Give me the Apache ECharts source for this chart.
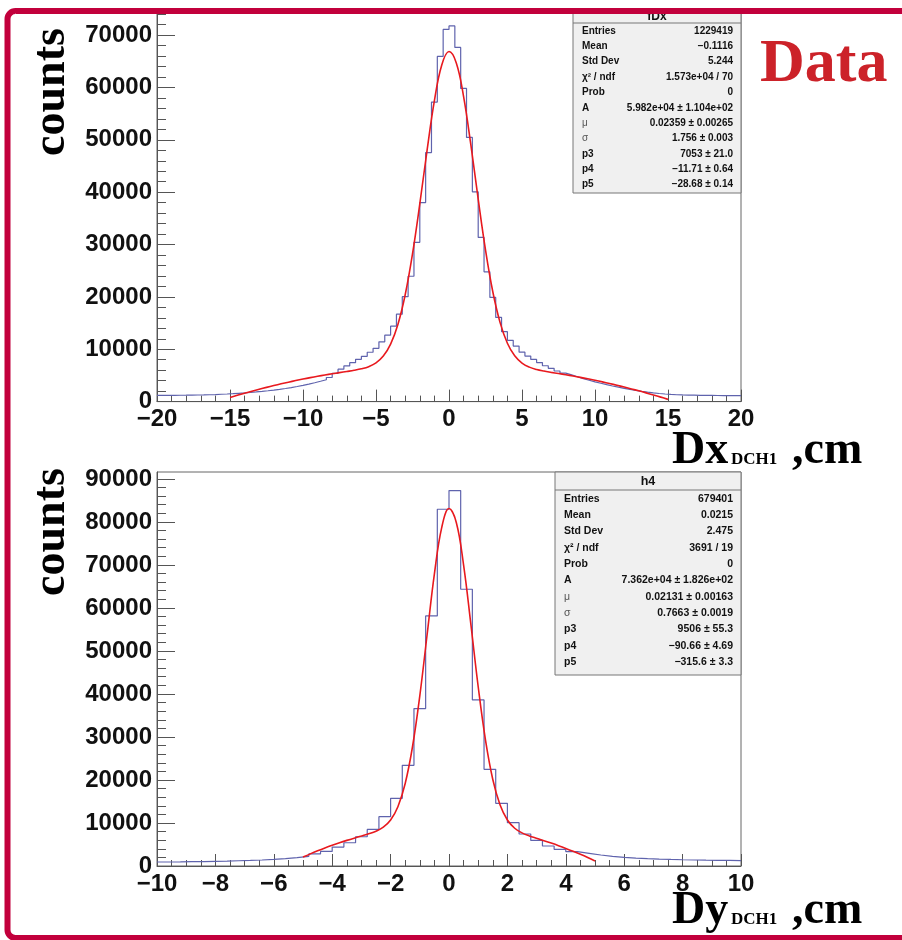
<!DOCTYPE html>
<html><head><meta charset="utf-8">
<script src="https://cdn.jsdelivr.net/npm/echarts@6/dist/echarts.min.js"></script>
<style>html,body{margin:0;padding:0;background:#fff}#c{width:902px;height:940px}</style>
</head><body><div id="c"></div>
<script>
// ---------- data ----------
const topBinStart = -20, topBinWidth = 0.4;
const topCounts = [1180,1190,1200,1210,1220,1240,1260,1280,1310,1340,
  1400,1450,1510,1580,1650,1740,1840,1950,2070,2200,
  2340,2500,2680,2880,3100,3340,3600,3880,4180,4600,
  5400,6200,6820,7430,8070,8640,9430,10170,11410,12680,
  14400,16700,20040,23950,30420,38020,47570,57210,65940,71090,
  71760,67650,59820,50460,40070,31360,24790,19900,16080,13350,
  11700,10600,9450,8700,8060,7450,6850,6350,5850,5450,
  5100,4750,4400,4080,3780,3500,3230,2980,2750,2530,
  2330,2140,1970,1810,1670,1550,1450,1370,1310,1270,
  1240,1220,1200,1190,1180,1170,1160,1150,1140,1130];
const topFitStart = -15, topFitStep = 0.5;
const topFit = [776,1193,1596,1984,2358,2718,3064,3395,3712,4014,4302,4576,4835,5080,5311,5530,5750,5977,6258,6675,
  7394,8692,10974,14734,20415,28199,37758,48055,57506,64264,66868,64700,58267,48977,38667,28973,20979,15090,11153,8742,
  7356,6583,6133,5832,5588,5358,5125,4881,4625,4353,4068,3768,3454,3125,2783,2425,2054,1668,1268,853,424];

const botBinStart = -10, botBinWidth = 0.4;
const botCounts = [930,960,1000,1040,1090,1150,1220,1300,1400,1520,
  1700,1950,2250,2800,3400,4400,5400,6800,8500,11470,
  15740,23410,36590,58140,82940,87290,64340,38600,22480,14570,
  10080,7440,5950,4650,3880,3330,2950,2560,2250,2000,
  1820,1700,1600,1520,1450,1400,1360,1330,1300,1270];
const botFitStart = -5, botFitStep = 0.25;
const botFit = [2069,2816,3523,4191,4819,5408,5957,6475,6969,7475,8088,9022,10695,13787,19194,27724,39570,53760,67904,78668,
  83098,79869,69957,56115,41669,29261,20103,14160,10687,8776,7701,7000,6432,5888,5323,4728,4094,3420,2707,1955,1163];

const statLabels = ['Entries','Mean','Std Dev','\u03c7\u00b2 / ndf','Prob','A','\u03bc','\u03c3','p3','p4','p5'];
const topStatTitle = 'fDx';
const topStats = ['1229419','\u22120.1116','5.244','1.573e+04 / 70','0','5.982e+04 \u00b1 1.104e+02','0.02359 \u00b1 0.00265','1.756 \u00b1 0.003','7053 \u00b1 21.0','\u221211.71 \u00b1 0.64','\u221228.68 \u00b1 0.14'];
const botStatTitle = 'h4';
const botStats = ['679401','0.0215','2.475','3691 / 19','0','7.362e+04 \u00b1 1.826e+02','0.02131 \u00b1 0.00163','0.7663 \u00b1 0.0019','9506 \u00b1 55.3','\u221290.66 \u00b1 4.69','\u2212315.6 \u00b1 3.3'];

// ---------- helpers ----------
function histData(start, width, counts) {
  const d = counts.map((v, i) => [+(start + i * width).toFixed(4), v]);
  d.push([+(start + counts.length * width).toFixed(4), counts[counts.length - 1]]);
  return d;
}
function fitData(start, step, vals) {
  return vals.map((v, i) => [+(start + i * step).toFixed(4), v]);
}
function minorVals(max, major, minor) {
  const r = [];
  for (let v = minor; v < max; v += minor) if (v % major !== 0) r.push(v);
  return r;
}
const axisColor = '#555';
const numFont = {fontFamily: 'Liberation Sans', fontWeight: 'bold', fontSize: 24, color: '#111'};
const fmtX = v => v < 0 ? '\u2212' + (-v) : String(v);
const fmtY = v => String(v);

function xAxisCfg(gi, min, max, interval, minorSplit) {
  return {type: 'value', gridIndex: gi, min, max, interval,
    axisLine: {show: true, onZero: false, lineStyle: {color: axisColor, width: 1}},
    axisTick: {show: true, inside: true, length: 12, lineStyle: {color: axisColor}},
    minorTick: {show: true, splitNumber: minorSplit, length: 6, lineStyle: {color: axisColor}},
    axisLabel: Object.assign({margin: 6, formatter: fmtX}, numFont),
    splitLine: {show: false}, minorSplitLine: {show: false}};
}
function yAxisMain(gi, max) {
  return {type: 'value', gridIndex: gi, min: 0, max, interval: 10000,
    axisLine: {show: true, onZero: false, lineStyle: {color: axisColor, width: 1}},
    axisTick: {show: true, inside: true, length: 18, lineStyle: {color: axisColor}},
    axisLabel: Object.assign({margin: 5, showMaxLabel: false, formatter: fmtY}, numFont),
    splitLine: {show: false}};
}
function yAxisMinor(gi, max) {
  return {type: 'value', gridIndex: gi, min: 0, max, position: 'left',
    axisLine: {show: false, onZero: false}, axisLabel: {show: false}, splitLine: {show: false},
    axisTick: {show: true, inside: true, length: 9, customValues: minorVals(max, 10000, 2000), lineStyle: {color: axisColor}}};
}

function statBox(x, y, w, h, titleH, firstRow, rowStep, fs, title, labels, values) {
  const els = [];
  els.push({type: 'rect', shape: {x, y, width: w, height: h}, style: {fill: '#f0f0f0', stroke: '#777', lineWidth: 1}, z: 20});
  els.push({type: 'line', shape: {x1: x, y1: y + titleH, x2: x + w, y2: y + titleH}, style: {stroke: '#777', lineWidth: 1}, z: 21});
  els.push({type: 'text', x: x + w / 2, y: y + titleH / 2 + 1, z: 21,
    style: {text: title, font: 'bold ' + (fs + 2) + 'px "Liberation Sans"', fill: '#111', align: 'center', verticalAlign: 'middle'}});
  labels.forEach((lab, i) => {
    const yy = firstRow + i * rowStep;
    const greek = (lab === '\u03bc' || lab === '\u03c3');
    els.push({type: 'text', x: x + 9, y: yy, z: 21,
      style: {text: lab, font: (greek ? '' : 'bold ') + fs + 'px "Liberation Sans"', fill: greek ? '#555' : '#111', align: 'left', verticalAlign: 'middle'}});
    els.push({type: 'text', x: x + w - 8, y: yy, z: 21,
      style: {text: values[i], font: 'bold ' + fs + 'px "Liberation Sans"', fill: '#111', align: 'right', verticalAlign: 'middle'}});
  });
  return els;
}

const serif = '"Liberation Serif"';
const graphics = [].concat(
  statBox(573, 9, 168, 184, 14, 31, 15.35, 10, topStatTitle, statLabels, topStats),
  statBox(555, 472, 186, 203, 18, 499, 16.3, 10.5, botStatTitle, statLabels, botStats),
  [
    {type: 'text', x: 52, y: 92, rotation: Math.PI / 2, z: 30, style: {text: 'counts', font: 'bold 46px ' + serif, fill: '#000', align: 'center', verticalAlign: 'middle'}},
    {type: 'text', x: 52, y: 532, rotation: Math.PI / 2, z: 30, style: {text: 'counts', font: 'bold 46px ' + serif, fill: '#000', align: 'center', verticalAlign: 'middle'}},
    {type: 'text', x: 672, y: 451, z: 30, style: {text: 'Dx', font: 'bold 46px ' + serif, fill: '#000', align: 'left', verticalAlign: 'middle'}},
    {type: 'text', x: 731, y: 460, z: 30, style: {text: 'DCH1', font: 'bold 17px ' + serif, fill: '#000', align: 'left', verticalAlign: 'middle'}},
    {type: 'text', x: 792, y: 451, z: 30, style: {text: ',cm', font: 'bold 46px ' + serif, fill: '#000', align: 'left', verticalAlign: 'middle'}},
    {type: 'text', x: 672, y: 911, z: 30, style: {text: 'Dy', font: 'bold 46px ' + serif, fill: '#000', align: 'left', verticalAlign: 'middle'}},
    {type: 'text', x: 731, y: 920, z: 30, style: {text: 'DCH1', font: 'bold 17px ' + serif, fill: '#000', align: 'left', verticalAlign: 'middle'}},
    {type: 'text', x: 792, y: 911, z: 30, style: {text: ',cm', font: 'bold 46px ' + serif, fill: '#000', align: 'left', verticalAlign: 'middle'}},
    {type: 'text', x: 760, y: 65, z: 30, style: {text: 'Data', font: 'bold 62px ' + serif, fill: '#cc2229', align: 'left', verticalAlign: 'middle'}},
    {type: 'rect', z: 100, shape: {x: 7.5, y: 11, width: 1000, height: 927, r: 8}, style: {fill: 'none', stroke: '#c2003c', lineWidth: 6}}
  ]
);

const option = {
  animation: false,
  backgroundColor: '#fff',
  grid: [
    {left: 157, top: 9, width: 584, height: 392.6, show: true, borderColor: '#666', borderWidth: 1, backgroundColor: '#fff'},
    {left: 157, top: 472, width: 584, height: 394, show: true, borderColor: '#666', borderWidth: 1, backgroundColor: '#fff'}
  ],
  xAxis: [xAxisCfg(0, -20, 20, 5, 5), xAxisCfg(1, -10, 10, 2, 4)],
  yAxis: [yAxisMain(0, 75000), yAxisMinor(0, 75000), yAxisMain(1, 91600), yAxisMinor(1, 91600)],
  series: [
    {type: 'line', xAxisIndex: 0, yAxisIndex: 0, data: histData(topBinStart, topBinWidth, topCounts), step: 'end', symbol: 'none', lineStyle: {color: '#5f63ad', width: 1.2}, z: 2},
    {type: 'line', xAxisIndex: 0, yAxisIndex: 0, data: fitData(topFitStart, topFitStep, topFit), smooth: 0.4, symbol: 'none', lineStyle: {color: '#e8191e', width: 1.6}, z: 3},
    {type: 'line', xAxisIndex: 1, yAxisIndex: 2, data: histData(botBinStart, botBinWidth, botCounts), step: 'end', symbol: 'none', lineStyle: {color: '#5f63ad', width: 1.2}, z: 2},
    {type: 'line', xAxisIndex: 1, yAxisIndex: 2, data: fitData(botFitStart, botFitStep, botFit), smooth: 0.4, symbol: 'none', lineStyle: {color: '#e8191e', width: 1.6}, z: 3}
  ],
  graphic: {elements: graphics}
};
const chart = echarts.init(document.getElementById('c'), null, {renderer: 'canvas'});
chart.setOption(option);
</script></body></html>
